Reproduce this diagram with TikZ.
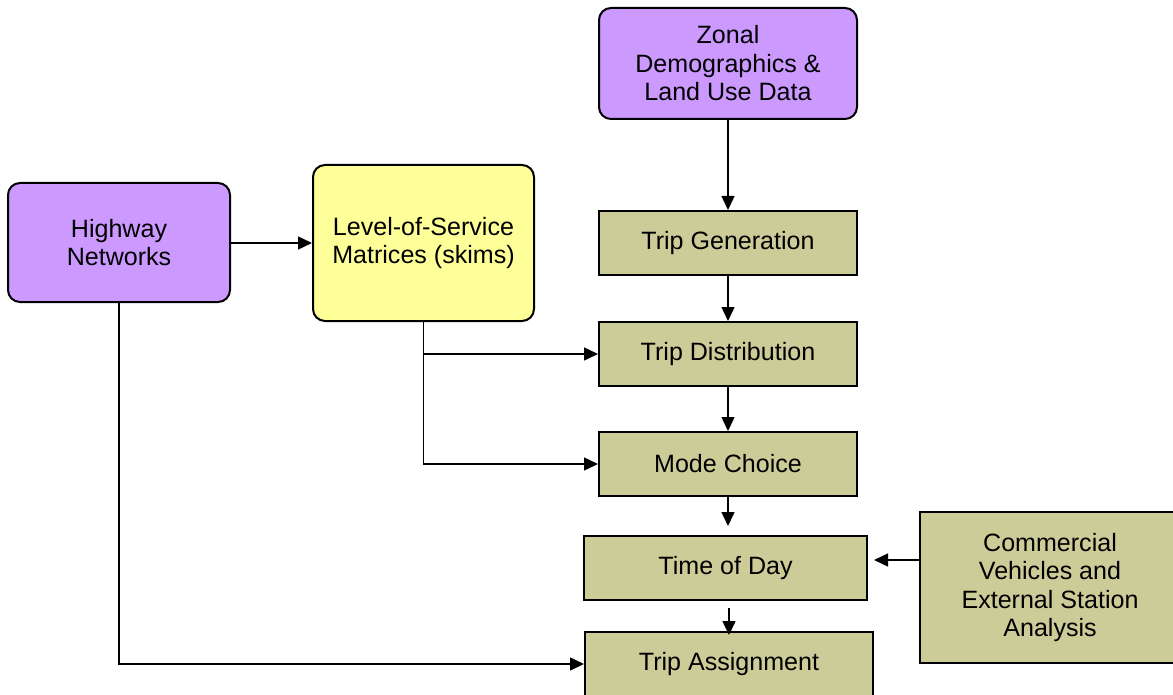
\documentclass[tikz,border=0pt]{standalone}
\usepackage{fontspec}
\setmainfont{Liberation Sans}
\usepackage{tikz}
\usetikzlibrary{arrows.meta}
\usetikzlibrary{positioning}
\definecolor{lilac}{HTML}{CC99FF}
\definecolor{paleyellow}{HTML}{FFFF99}
\definecolor{khaki}{HTML}{CCCC99}
\tikzset{
  databox/.style={draw=black, line width=1.5pt, rounded corners=9pt, fill=lilac, align=center, inner sep=0pt},
  skimbox/.style={databox, fill=paleyellow},
  stepbox/.style={draw=black, line width=1.5pt, fill=khaki, align=center, inner sep=0pt, minimum width=193.5pt, minimum height=48pt},
  arr/.style={line width=1.1pt, -{Triangle[length=10.5pt, width=9.75pt]}}
}

\begin{document}
\begin{tikzpicture}[x=0.75pt, y=-0.75pt, font=\fontsize{18.8}{21.4}\selectfont]
          \clip (0,0) rectangle (1173,695);
          %input data
          \node[databox, minimum width=193.5pt, minimum height=83.25pt] (zonal) at (728,63.5) {Zonal\\Demographics \&\\Land Use Data};
          \node[databox, minimum width=166.5pt, minimum height=89.25pt] (highway) at (119,242.5) {Highway\\Networks};
          \node[skimbox, minimum width=165.75pt, minimum height=117pt] (los) at (423.5,243) {Level-of-Service\\Matrices (skims)};
          %model steps
          \node[stepbox] (tg) at (728,243) {Trip Generation};
          \node[stepbox] (td) at (728,354) {Trip Distribution};
          \node[stepbox] (mc) at (728,464) {Mode Choice};
          \node[stepbox, minimum width=212.25pt] (tod) at (725.5,568) {Time of Day};
          \node[stepbox, minimum width=216pt] (ta) at (729,664) {Trip Assignment};
          \node[stepbox, minimum width=195pt, minimum height=113.25pt] (comm) at (1050,587.5) {Commercial\\Vehicles and\\External Station\\Analysis};
          %arrows
          \draw[arr] (zonal) -- (tg);
          \draw[arr] (highway.east |- los) -- (los);
          \draw[arr] (tg) -- (td);
          \draw[arr] (td) -- (mc);
          \draw[arr, shorten >=6.75pt] (mc.south) -- (mc.south |- tod.north);
          \draw[arr, shorten <=5.25pt, shorten >=-3pt] (tod.south -| ta.north) -- (ta.north);
          \draw[arr, shorten >=4.5pt] ([yshift=6pt]comm.west |- tod.east) -- ([yshift=6pt]tod.east);
          \draw[arr] (los.south) |- (td.west);
          \draw[arr] (los.south) |- (mc.west);
          \draw[arr] (highway.south) |- (ta.west);
      \end{tikzpicture}
\end{document}
